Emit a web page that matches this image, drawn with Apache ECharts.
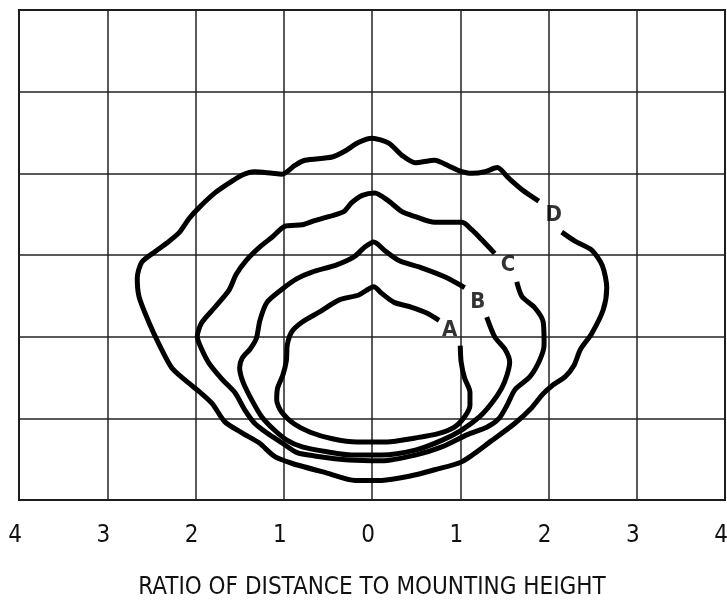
<!DOCTYPE html>
<html>
<head>
<meta charset="utf-8">
<script src="https://cdn.jsdelivr.net/npm/echarts@6/dist/echarts.min.js"></script>
<style>
  html, body { margin: 0; padding: 0; background: #fff; }
  #chart { width: 727px; height: 600px; }
</style>
</head>
<body>
<div id="chart"></div>
<script>
// contour curves, [ratio, height]
var curveA = [[1.00,1.89],[1.01,1.69],[1.05,1.49],[1.11,1.32],[1.11,1.16],[1.05,1.02],[0.93,0.89],[0.74,0.81],[0.49,0.76],[0.17,0.71],[-0.17,0.71],[-0.45,0.75],[-0.70,0.83],[-0.88,0.93],[-1.02,1.07],[-1.08,1.22],[-1.07,1.37],[-1.01,1.53],[-0.97,1.71],[-0.96,1.90],[-0.91,2.06],[-0.79,2.18],[-0.60,2.30],[-0.37,2.45],[-0.15,2.51],[-0.06,2.57],[0.02,2.61],[0.11,2.53],[0.25,2.42],[0.45,2.36],[0.62,2.29],[0.76,2.20]];
var curveB = [[1.30,2.24],[1.39,2.00],[1.51,1.84],[1.56,1.69],[1.53,1.53],[1.47,1.37],[1.36,1.19],[1.22,1.02],[1.02,0.86],[0.79,0.73],[0.49,0.61],[0.11,0.55],[-0.23,0.55],[-0.51,0.59],[-0.79,0.65],[-0.96,0.73],[-1.11,0.86],[-1.25,1.02],[-1.36,1.22],[-1.46,1.44],[-1.50,1.62],[-1.47,1.74],[-1.38,1.85],[-1.31,1.98],[-1.27,2.20],[-1.19,2.42],[-1.02,2.58],[-0.85,2.71],[-0.68,2.79],[-0.40,2.88],[-0.20,2.98],[-0.09,3.09],[0.02,3.16],[0.15,3.05],[0.31,2.93],[0.57,2.84],[0.83,2.73],[1.05,2.60]];
var curveC = [[1.64,2.67],[1.70,2.49],[1.84,2.36],[1.94,2.18],[1.95,1.90],[1.90,1.71],[1.79,1.51],[1.62,1.35],[1.53,1.16],[1.44,1.00],[1.30,0.89],[1.08,0.80],[0.79,0.65],[0.49,0.55],[0.11,0.48],[-0.26,0.49],[-0.65,0.54],[-0.85,0.58],[-1.02,0.70],[-1.19,0.82],[-1.33,0.94],[-1.44,1.10],[-1.55,1.31],[-1.70,1.48],[-1.85,1.68],[-1.94,1.87],[-1.98,2.00],[-1.93,2.17],[-1.78,2.36],[-1.62,2.57],[-1.54,2.76],[-1.42,2.94],[-1.27,3.10],[-1.13,3.22],[-0.99,3.35],[-0.79,3.37],[-0.65,3.42],[-0.49,3.47],[-0.32,3.53],[-0.23,3.64],[-0.11,3.73],[0.03,3.76],[0.19,3.66],[0.34,3.53],[0.49,3.47],[0.71,3.40],[1.02,3.40],[1.13,3.31],[1.25,3.18],[1.39,3.02]];
var curveD = [[2.15,3.28],[2.30,3.17],[2.49,3.06],[2.61,2.87],[2.66,2.60],[2.62,2.33],[2.49,2.04],[2.36,1.84],[2.29,1.65],[2.19,1.51],[2.04,1.40],[1.93,1.29],[1.81,1.13],[1.62,0.94],[1.36,0.73],[1.02,0.47],[0.71,0.37],[0.42,0.29],[0.11,0.24],[-0.19,0.24],[-0.51,0.33],[-0.91,0.45],[-1.10,0.53],[-1.28,0.70],[-1.47,0.82],[-1.67,0.96],[-1.81,1.18],[-1.96,1.33],[-2.12,1.47],[-2.27,1.62],[-2.41,1.90],[-2.53,2.18],[-2.64,2.49],[-2.66,2.72],[-2.61,2.91],[-2.46,3.04],[-2.32,3.15],[-2.18,3.28],[-2.07,3.45],[-1.96,3.58],[-1.78,3.76],[-1.62,3.88],[-1.47,3.98],[-1.33,4.02],[-1.13,4.00],[-1.02,3.99],[-0.87,4.10],[-0.76,4.16],[-0.45,4.20],[-0.31,4.27],[-0.15,4.38],[0,4.43],[0.19,4.37],[0.34,4.22],[0.49,4.13],[0.71,4.16],[0.87,4.09],[0.99,4.03],[1.13,4.00],[1.28,4.02],[1.42,4.07],[1.55,3.94],[1.70,3.80],[1.89,3.66]];

var curveNames = ['A', 'B', 'C', 'D'];
var labelPos = [[0.88,2.08],[1.20,2.42],[1.54,2.87],[2.06,3.49]];
var xTitle = 'RATIO OF DISTANCE TO MOUNTING HEIGHT';

var narrow = '"Liberation Sans Narrow", "Arial Narrow", "DejaVu Sans Condensed", sans-serif';

var chart = echarts.init(document.getElementById('chart'));

var series = [curveA, curveB, curveC, curveD].map(function (pts, i) {
    return {
        name: curveNames[i],
        type: 'line',
        data: pts,
        smooth: 0.25,
        showSymbol: false,
        lineStyle: { color: '#000', width: 5 }
    };
});
// letters sitting in the gaps of the curves
series.push({
    type: 'scatter',
    symbolSize: 0,
    data: labelPos.map(function (p, i) { return { name: curveNames[i], value: p }; }),
    label: {
        show: true,
        position: 'inside',
        formatter: '{b}',
        fontFamily: narrow,
        fontWeight: 'bold',
        fontSize: 22,
        color: '#000',
        textBorderWidth: 0
    }
});

chart.setOption({
    animation: false,
    backgroundColor: '#fff',
    grid: {
        left: 19, right: 2, top: 10, bottom: 100,
        outerBoundsMode: 'none',
        show: true, borderColor: '#111', borderWidth: 2
    },
    xAxis: {
        type: 'value',
        min: -4, max: 4, interval: 1,
        name: xTitle,
        nameLocation: 'middle',
        nameGap: 76,
        nameTextStyle: { fontFamily: narrow, fontSize: 24, color: '#111' },
        axisLine: { show: false },
        axisTick: { show: false },
        axisLabel: {
            margin: 24,
            fontFamily: narrow,
            fontSize: 24,
            color: '#111',
            padding: [0, 8, 0, 0],
            hideOverlap: false,
            formatter: function (v) { return Math.abs(v); }
        },
        splitLine: { show: true, lineStyle: { color: '#222', width: 1.5 } }
    },
    yAxis: {
        type: 'value',
        min: 0, max: 6, interval: 1,
        axisLine: { show: false },
        axisTick: { show: false },
        axisLabel: { show: false },
        splitLine: { show: true, lineStyle: { color: '#222', width: 1.5 } }
    },
    series: series
});
</script>
</body>
</html>
